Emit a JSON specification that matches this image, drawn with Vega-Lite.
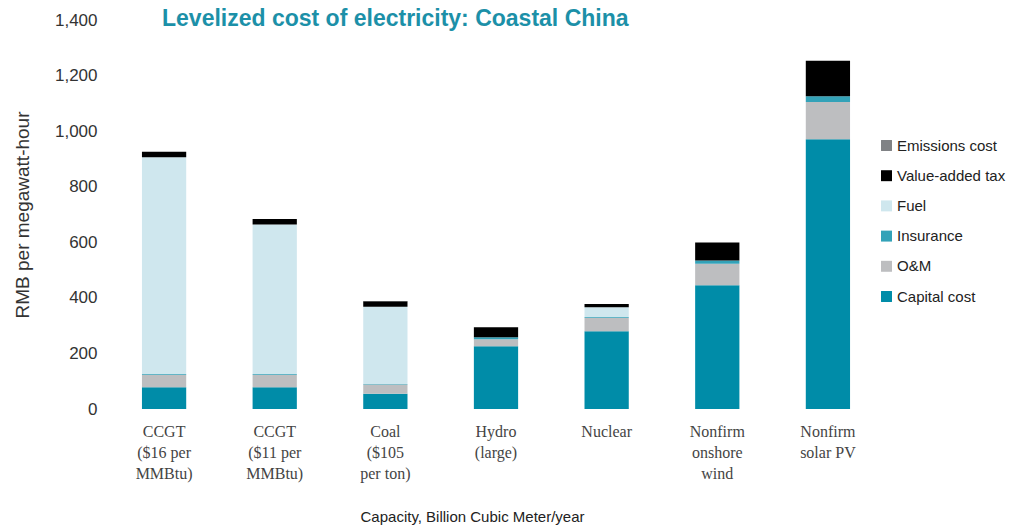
{
  "$schema": "https://vega.github.io/schema/vega-lite/v6.json",
  "autosize": "none",
  "width": 782,
  "height": 389,
  "padding": {"left": 105, "top": 20, "right": 129, "bottom": 120},
  "background": "white",
  "title": {
    "text": "Levelized cost of electricity: Coastal China",
    "anchor": "start",
    "frame": "group",
    "dx": 57,
    "dy": 24,
    "fontSize": 23,
    "font": "Liberation Sans",
    "fontWeight": "bold",
    "color": "#1c90a8"
  },
  "config": {"view": {"stroke": null}},
  "data": {
    "values": [
      {"tech": "CCGT|($16 per|MMBtu)", "component": "Capital cost", "ord": 1, "value": 78},
      {"tech": "CCGT|($16 per|MMBtu)", "component": "O&M", "ord": 2, "value": 45},
      {"tech": "CCGT|($16 per|MMBtu)", "component": "Insurance", "ord": 3, "value": 3},
      {"tech": "CCGT|($16 per|MMBtu)", "component": "Fuel", "ord": 4, "value": 780},
      {"tech": "CCGT|($16 per|MMBtu)", "component": "Value-added tax", "ord": 5, "value": 20},
      {"tech": "CCGT|($16 per|MMBtu)", "component": "Emissions cost", "ord": 6, "value": 0},
      {"tech": "CCGT|($11 per|MMBtu)", "component": "Capital cost", "ord": 1, "value": 78},
      {"tech": "CCGT|($11 per|MMBtu)", "component": "O&M", "ord": 2, "value": 45},
      {"tech": "CCGT|($11 per|MMBtu)", "component": "Insurance", "ord": 3, "value": 3},
      {"tech": "CCGT|($11 per|MMBtu)", "component": "Fuel", "ord": 4, "value": 538},
      {"tech": "CCGT|($11 per|MMBtu)", "component": "Value-added tax", "ord": 5, "value": 20},
      {"tech": "CCGT|($11 per|MMBtu)", "component": "Emissions cost", "ord": 6, "value": 0},
      {"tech": "Coal|($105|per ton)", "component": "Capital cost", "ord": 1, "value": 55},
      {"tech": "Coal|($105|per ton)", "component": "O&M", "ord": 2, "value": 33},
      {"tech": "Coal|($105|per ton)", "component": "Insurance", "ord": 3, "value": 2},
      {"tech": "Coal|($105|per ton)", "component": "Fuel", "ord": 4, "value": 278},
      {"tech": "Coal|($105|per ton)", "component": "Value-added tax", "ord": 5, "value": 20},
      {"tech": "Coal|($105|per ton)", "component": "Emissions cost", "ord": 6, "value": 1},
      {"tech": "Hydro|(large)", "component": "Capital cost", "ord": 1, "value": 226},
      {"tech": "Hydro|(large)", "component": "O&M", "ord": 2, "value": 25},
      {"tech": "Hydro|(large)", "component": "Insurance", "ord": 3, "value": 7},
      {"tech": "Hydro|(large)", "component": "Fuel", "ord": 4, "value": 0},
      {"tech": "Hydro|(large)", "component": "Value-added tax", "ord": 5, "value": 36},
      {"tech": "Hydro|(large)", "component": "Emissions cost", "ord": 6, "value": 0},
      {"tech": "Nuclear", "component": "Capital cost", "ord": 1, "value": 280},
      {"tech": "Nuclear", "component": "O&M", "ord": 2, "value": 48},
      {"tech": "Nuclear", "component": "Insurance", "ord": 3, "value": 3},
      {"tech": "Nuclear", "component": "Fuel", "ord": 4, "value": 35},
      {"tech": "Nuclear", "component": "Value-added tax", "ord": 5, "value": 12},
      {"tech": "Nuclear", "component": "Emissions cost", "ord": 6, "value": 0},
      {"tech": "Nonfirm|onshore|wind", "component": "Capital cost", "ord": 1, "value": 445},
      {"tech": "Nonfirm|onshore|wind", "component": "O&M", "ord": 2, "value": 78},
      {"tech": "Nonfirm|onshore|wind", "component": "Insurance", "ord": 3, "value": 11},
      {"tech": "Nonfirm|onshore|wind", "component": "Fuel", "ord": 4, "value": 0},
      {"tech": "Nonfirm|onshore|wind", "component": "Value-added tax", "ord": 5, "value": 65},
      {"tech": "Nonfirm|onshore|wind", "component": "Emissions cost", "ord": 6, "value": 0},
      {"tech": "Nonfirm|solar PV", "component": "Capital cost", "ord": 1, "value": 971},
      {"tech": "Nonfirm|solar PV", "component": "O&M", "ord": 2, "value": 134},
      {"tech": "Nonfirm|solar PV", "component": "Insurance", "ord": 3, "value": 21},
      {"tech": "Nonfirm|solar PV", "component": "Fuel", "ord": 4, "value": 0},
      {"tech": "Nonfirm|solar PV", "component": "Value-added tax", "ord": 5, "value": 127},
      {"tech": "Nonfirm|solar PV", "component": "Emissions cost", "ord": 6, "value": 0}
    ]
  },
  "mark": {"type": "bar"},
  "encoding": {
    "x": {
      "field": "tech",
      "type": "nominal",
      "sort": null,
      "scale": {"paddingInner": 0.6, "paddingOuter": 0.334},
      "axis": {
        "title": "Capacity, Billion Cubic Meter/year",
        "titleFont": "Liberation Sans",
        "titleFontSize": 15,
        "titleFontWeight": "normal",
        "titleColor": "#222222",
        "titleX": 367,
        "titleY": 107,
        "titleAlign": "center",
        "titleBaseline": "middle",
        "labelExpr": "split(datum.label, '|')",
        "labelAngle": 0,
        "labelFont": "Liberation Serif",
        "labelFontSize": 16,
        "labelLineHeight": 21,
        "labelColor": "#444444",
        "labelPadding": 14,
        "labelBaseline": "top",
        "domain": false,
        "ticks": false
      }
    },
    "y": {
      "field": "value",
      "type": "quantitative",
      "stack": "zero",
      "scale": {"domain": [0, 1400], "nice": false},
      "axis": {
        "title": "RMB per megawatt-hour",
        "titleFont": "Liberation Sans",
        "titleFontSize": 19,
        "titleFontWeight": "normal",
        "titleColor": "#333333",
        "titlePadding": 22,
        "values": [0, 200, 400, 600, 800, 1000, 1200, 1400],
        "format": ",d",
        "labelFont": "Liberation Sans",
        "labelFontSize": 17,
        "labelColor": "#333333",
        "labelPadding": 8,
        "grid": false,
        "domain": false,
        "ticks": false
      }
    },
    "color": {
      "field": "component",
      "type": "nominal",
      "scale": {
        "domain": ["Emissions cost", "Value-added tax", "Fuel", "Insurance", "O&M", "Capital cost"],
        "range": ["#808285", "#000000", "#cfe7ee", "#33a2b8", "#bdbec0", "#008ca8"]
      },
      "legend": {
        "title": null,
        "orient": "none",
        "legendX": 774,
        "legendY": 118,
        "symbolType": "square",
        "symbolSize": 120,
        "symbolStrokeWidth": 0,
        "labelFont": "Liberation Sans",
        "labelFontSize": 15,
        "labelColor": "#222222",
        "rowPadding": 14.2,
        "labelOffset": 3
      }
    },
    "order": {"field": "ord", "type": "quantitative"}
  }
}
